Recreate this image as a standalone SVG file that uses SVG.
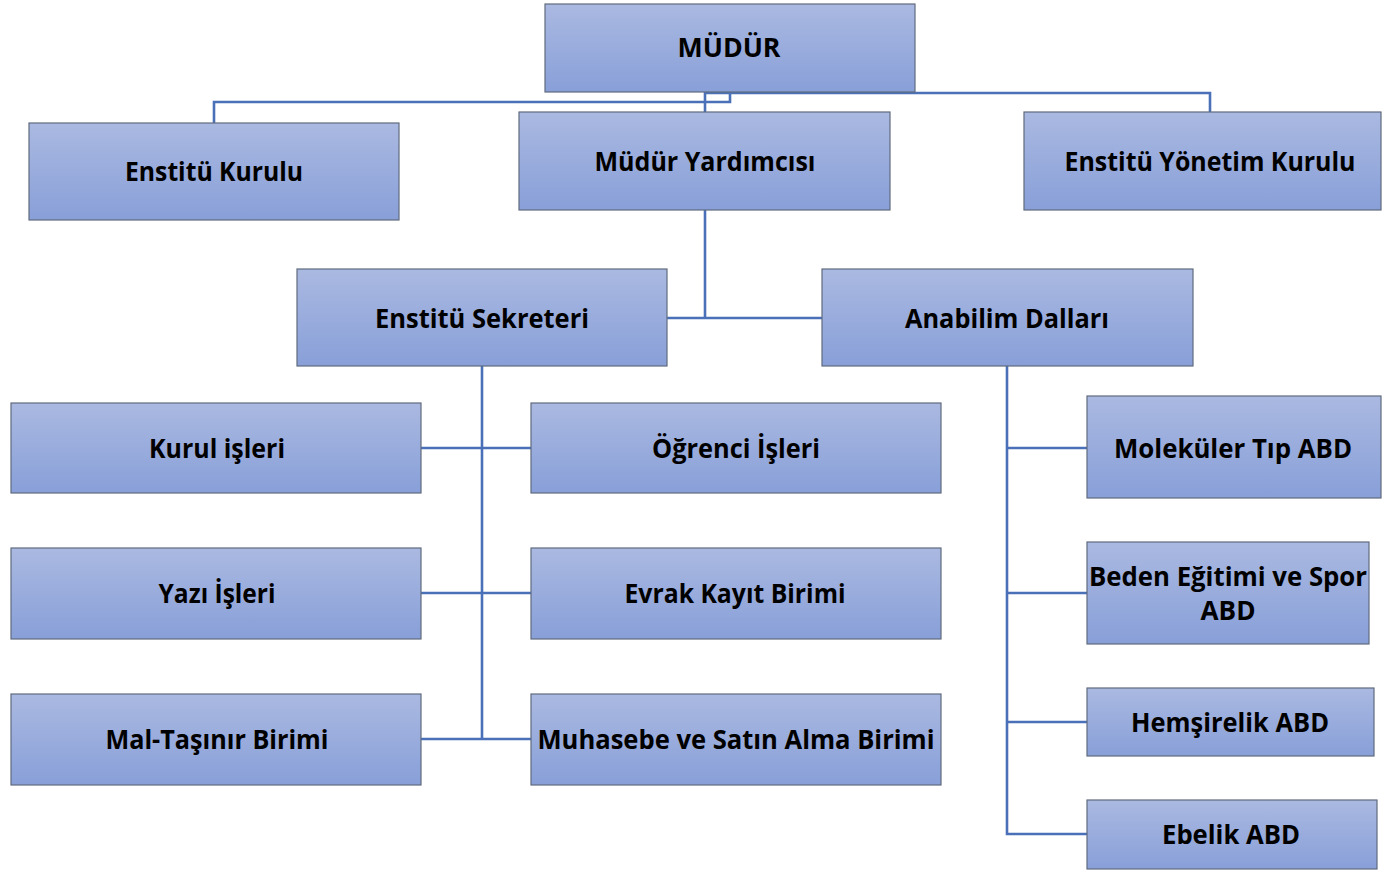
<svg xmlns="http://www.w3.org/2000/svg" width="1382" height="871" viewBox="0 0 1382 871">
<defs>
<linearGradient id="g" x1="0" y1="0" x2="0" y2="1">
<stop offset="0" stop-color="#aab9e1"/>
<stop offset="1" stop-color="#889fd8"/>
</linearGradient>
<style>
.box{fill:url(#g);stroke:#5f6b7d;stroke-width:1.2}
.t{font-family:"Open Sans","Noto Sans",sans-serif;font-weight:700;font-size:27px;fill:#000;text-anchor:middle}
.c{fill:none;stroke:#4a70b8;stroke-width:2.6}
</style>
</defs>
<rect width="1382" height="871" fill="#fff"/>
<g id="connectors">
<polyline class="c" points="730,92 730,102 214,102 214,123"/>
<polyline class="c" points="705,92 705,112"/>
<polyline class="c" points="705,93 1210,93 1210,112"/>
<polyline class="c" points="705,210 705,318"/>
<polyline class="c" points="667,318 822,318"/>
<polyline class="c" points="482,366 482,739"/>
<polyline class="c" points="421,448 531,448"/>
<polyline class="c" points="421,593 531,593"/>
<polyline class="c" points="421,739 531,739"/>
<polyline class="c" points="1007,366 1007,834 1087,834"/>
<polyline class="c" points="1007,448 1087,448"/>
<polyline class="c" points="1007,593 1087,593"/>
<polyline class="c" points="1007,722 1087,722"/>
</g>
<g id="mudur"><rect class="box" x="545" y="4" width="370" height="88"/><text class="t" x="729" y="57" textLength="103" lengthAdjust="spacingAndGlyphs">MÜDÜR</text></g>
<g id="enstitu-kurulu"><rect class="box" x="29" y="123" width="370" height="97"/><text class="t" x="214" y="181" textLength="178" lengthAdjust="spacingAndGlyphs">Enstitü Kurulu</text></g>
<g id="mudur-yardimcisi"><rect class="box" x="519" y="112" width="371" height="98"/><text class="t" x="705" y="171" textLength="221" lengthAdjust="spacingAndGlyphs">Müdür Yardımcısı</text></g>
<g id="enstitu-yonetim-kurulu"><rect class="box" x="1024" y="112" width="357" height="98"/><text class="t" x="1210" y="171" textLength="291" lengthAdjust="spacingAndGlyphs">Enstitü Yönetim Kurulu</text></g>
<g id="enstitu-sekreteri"><rect class="box" x="297" y="269" width="370" height="97"/><text class="t" x="482" y="328" textLength="214" lengthAdjust="spacingAndGlyphs">Enstitü Sekreteri</text></g>
<g id="anabilim-dallari"><rect class="box" x="822" y="269" width="371" height="97"/><text class="t" x="1007" y="328" textLength="204" lengthAdjust="spacingAndGlyphs">Anabilim Dalları</text></g>
<g id="kurul-isleri"><rect class="box" x="11" y="403" width="410" height="90"/><text class="t" x="217" y="458" textLength="136" lengthAdjust="spacingAndGlyphs">Kurul işleri</text></g>
<g id="ogrenci-isleri"><rect class="box" x="531" y="403" width="410" height="90"/><text class="t" x="736" y="458" textLength="168" lengthAdjust="spacingAndGlyphs">Öğrenci İşleri</text></g>
<g id="yazi-isleri"><rect class="box" x="11" y="548" width="410" height="91"/><text class="t" x="217" y="603" textLength="117" lengthAdjust="spacingAndGlyphs">Yazı İşleri</text></g>
<g id="evrak-kayit"><rect class="box" x="531" y="548" width="410" height="91"/><text class="t" x="735" y="603" textLength="221" lengthAdjust="spacingAndGlyphs">Evrak Kayıt Birimi</text></g>
<g id="mal-tasinir"><rect class="box" x="11" y="694" width="410" height="91"/><text class="t" x="217" y="749" textLength="223" lengthAdjust="spacingAndGlyphs">Mal-Taşınır Birimi</text></g>
<g id="muhasebe"><rect class="box" x="531" y="694" width="410" height="91"/><text class="t" x="736" y="749" textLength="397" lengthAdjust="spacingAndGlyphs">Muhasebe ve Satın Alma Birimi</text></g>
<g id="molekuler-tip"><rect class="box" x="1087" y="396" width="294" height="102"/><text class="t" x="1233" y="458" textLength="238" lengthAdjust="spacingAndGlyphs">Moleküler Tıp ABD</text></g>
<g id="beden-egitimi"><rect class="box" x="1087" y="542" width="282" height="102"/><text class="t" x="1228" y="586" textLength="278" lengthAdjust="spacingAndGlyphs">Beden Eğitimi ve Spor</text><text class="t" x="1228" y="620" textLength="55" lengthAdjust="spacingAndGlyphs">ABD</text></g>
<g id="hemsirelik"><rect class="box" x="1087" y="688" width="287" height="68"/><text class="t" x="1230" y="732" textLength="198" lengthAdjust="spacingAndGlyphs">Hemşirelik ABD</text></g>
<g id="ebelik"><rect class="box" x="1087" y="800" width="290" height="69"/><text class="t" x="1231" y="844" textLength="138" lengthAdjust="spacingAndGlyphs">Ebelik ABD</text></g>
</svg>
